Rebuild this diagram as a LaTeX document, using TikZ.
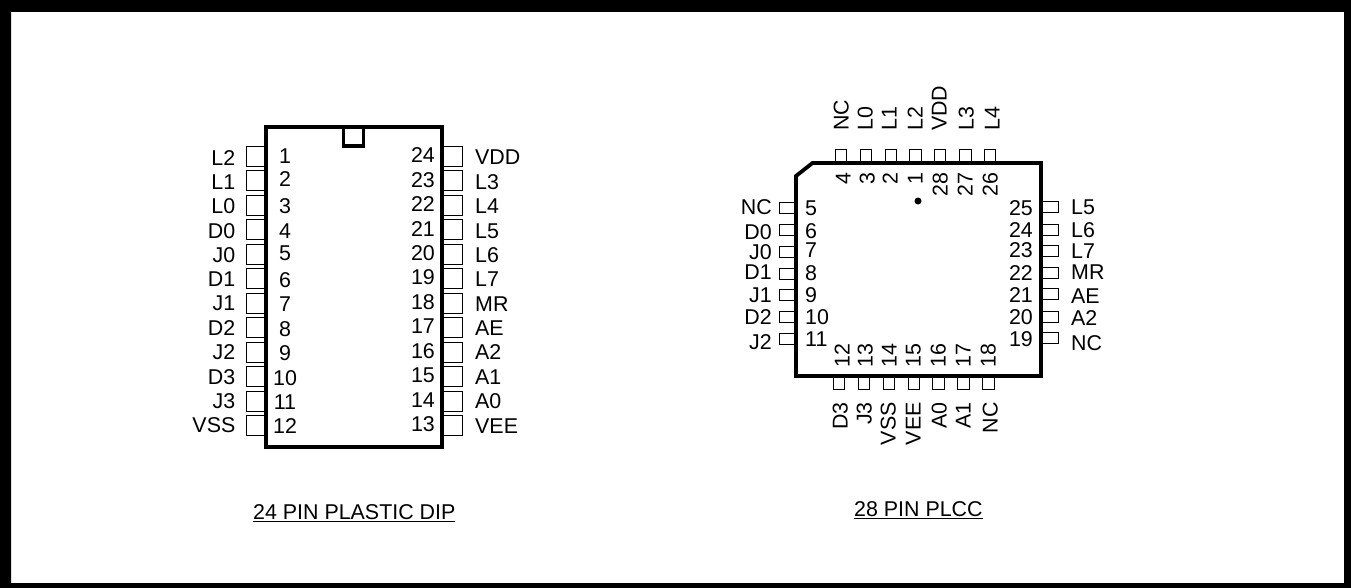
\documentclass[tikz,border=0pt]{standalone}
\usepackage{fontspec}
\setmainfont{Liberation Sans}
\tikzset{
  txt/.style={inner sep=0pt,font=\fontsize{21.4}{23}\selectfont,text height=15pt,text depth=0pt},
  pinbox/.style={draw,line width=0.9pt,inner sep=0pt,fill=white},
  dippin/.style={pinbox,minimum width=19pt,minimum height=20pt},
  hpin/.style={pinbox,minimum width=16pt,minimum height=11.5pt},
  vpin/.style={pinbox,minimum width=11.5pt,minimum height=12.5pt},
  chip/.style={line width=3.8pt,line join=miter}
}
\begin{document}
\begin{tikzpicture}[x=1pt,y=-1pt]
\useasboundingbox (0,0) rectangle (1351,588);
\fill[even odd rule] (0,0) rectangle (1351,588) (11,12) rectangle (1344,583);
% dip: pins
\foreach \i in {1,...,12} {
  \node[dippin] (dipl\i) at (255.5,{156+(\i-1)*24.5}) {};
  \node[dippin] (dipr\i) at (452.5,{156+(\i-1)*24.5}) {};
}
% dip: body and notch
\node[draw,chip,minimum width=176pt,minimum height=320pt,inner sep=0pt] (dip) at (354,287) {};
\draw[chip] (343.5,127) -- (343.5,146) -- (363.5,146) -- (363.5,127);
% dip: left side
\foreach \n/\a/\b/\t in {1/158/156/L2,2/182/179/L1,3/206/206/L0,4/231/231/D0,5/255/253/J0,6/279/280/D1,7/303/304/J1,8/328/329/D2,9/352/353/J2,10/377/378/D3,11/401/402/J3,12/425/426/VSS} {
  \node[txt,anchor=east] (dipname\n) at (235.5,\a) {\t};
  \node[txt] (dipnum\n) at (285,\b) {\n};
}
% dip: right side
\foreach \n/\a/\b/\t in {24/157/155/VDD,23/182/180/L3,22/206/204/L4,21/231/229/L5,20/255/253/L6,19/279/277/L7,18/304/302/MR,17/328/326/AE,16/352/351/A2,15/377/375/A1,14/401/400/A0,13/426/424/VEE} {
  \node[txt,anchor=west] (dipname\n) at (475,\a) {\t};
  \node[txt,anchor=east] (dipnum\n) at (435,\b) {\n};
}
\node[txt,text depth=4pt,anchor=south west] (diptitle) at (253,523.5) {\underline{24 PIN PLASTIC DIP}};
% plcc: pins
\foreach \n/\x in {4/841,3/865.7,2/890.7,1/915.3,28/940,27/965.3,26/990} \node[vpin] (top\n) at (\x,156) {};
\foreach \n/\x in {12/839,13/864,14/889,15/913.7,16/938.3,17/963.3,18/988.3} \node[vpin] (bot\n) at (\x,383) {};
\foreach \n/\y in {5/208,6/230,7/252,8/274,9/295,10/317,11/339} \node[hpin] (left\n) at (787,\y) {};
\foreach \n/\y in {25/207,24/230,23/251,22/273,21/294,20/317,19/338} \node[hpin] (right\n) at (1050,\y) {};
% plcc: body
\draw[chip] (812.5,163) -- (1041,163) -- (1041,376) -- (796,376) -- (796,176) -- cycle;
\fill (918,201) circle (3.5pt);
% plcc: top and bottom text
\foreach \n/\t/\a/\b in {4/NC/841/843,3/L0/865/867,2/L1/889/890,1/L2/915/915,28/VDD/939/940,27/L3/966/965,26/L4/992/990} {
  \node[txt,rotate=90,anchor=west] (topname\n) at (\a,131) {\t};
  \node[txt,rotate=90,anchor=east] (topnum\n) at (\b,172) {\n};
}
\foreach \n/\t/\a/\b in {12/D3/840/842,13/J3/864/865,14/VSS/888/889,15/VEE/913/913,16/A0/939/938,17/A1/963/963,18/NC/990/988} {
  \node[txt,rotate=90,anchor=east] (botname\n) at (\a,402) {\t};
  \node[txt,rotate=90,anchor=west] (botnum\n) at (\b,368) {\n};
}
% plcc: left and right text
\foreach \n/\t/\a/\b in {5/NC/207/208,6/D0/232/231,7/J0/252/250,8/D1/272/273,9/J1/295/295,10/D2/317/317,11/J2/342/339} {
  \node[txt,anchor=east] (leftname\n) at (772,\a) {\t};
  \node[txt,anchor=west] (leftnum\n) at (805,\b) {\n};
}
\foreach \n/\t/\a/\b in {25/L5/207/208,24/L6/230/230,23/L7/251/250,22/MR/272/273,21/AE/296/295,20/A2/318/317,19/NC/343/339} {
  \node[txt,anchor=west] (rightname\n) at (1071,\a) {\t};
  \node[txt,anchor=east] (rightnum\n) at (1033,\b) {\n};
}
\node[txt,text depth=4pt,anchor=south west] (plcctitle) at (854,521) {\underline{28 PIN PLCC}};
\end{tikzpicture}
\end{document}
